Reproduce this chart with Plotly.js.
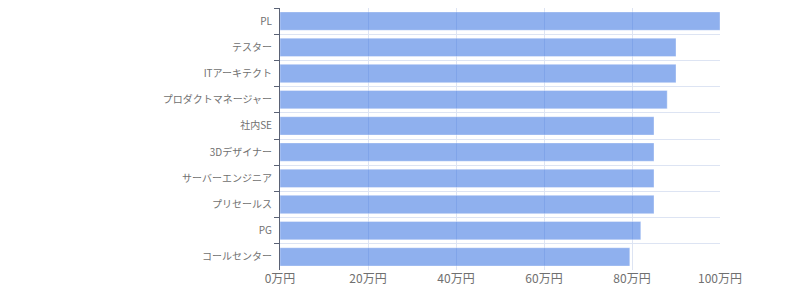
<!DOCTYPE html>
<html>
<head>
<meta charset="utf-8">
<script src="https://cdn.plot.ly/plotly-3.0.1.min.js"></script>
<style>html,body{margin:0;padding:0;background:#fff;}</style>
</head>
<body>
<div id="chart" style="width:800px;height:300px;"></div>
<script>
const categories = ["PL","テスター","ITアーキテクト","プロダクトマネージャー","社内SE","3Dデザイナー","サーバーエンジニア","プリセールス","PG","コールセンター"];
const values = [100,90,90,88,85,85,85,85,82,79.5];
const xTickVals = [0,20,40,60,80,100];
const xTickText = ["0万円","20万円","40万円","60万円","80万円","100万円"];

const font = "'Noto Sans CJK JP', 'Noto Sans', sans-serif";
Plotly.newPlot("chart", [{
  type: "bar",
  orientation: "h",
  x: values,
  y: categories,
  marker: {color: "rgba(51,111,224,0.55)", line: {color: "rgba(255,255,255,0.35)", width: 1}},
  hoverinfo: "none"
}], {
  width: 800, height: 300,
  margin: {l: 280, r: 80, t: 8, b: 30},
  paper_bgcolor: "#fff", plot_bgcolor: "#fff",
  bargap: 0.3,
  showlegend: false,
  font: {family: font, color: "#707070"},
  xaxis: {
    range: [0, 100], tickvals: xTickVals, ticktext: xTickText,
    showgrid: true, gridcolor: "#dde4f3", gridwidth: 1,
    zeroline: false, showline: false, ticks: "",
    tickfont: {size: 12, color: "#707070"}, fixedrange: true
  },
  yaxis: {
    type: "category", autorange: "reversed",
    tickson: "boundaries", showgrid: true, gridcolor: "#dde4f3", gridwidth: 1,
    showline: true, linecolor: "#5a6275", linewidth: 1,
    ticks: "outside", ticklen: 5, tickcolor: "#5a6275",
    ticklabelstandoff: 5,
    tickfont: {size: 10, color: "#707070"}, fixedrange: true
  }
}, {displayModeBar: false, staticPlot: true});
</script>
</body>
</html>
